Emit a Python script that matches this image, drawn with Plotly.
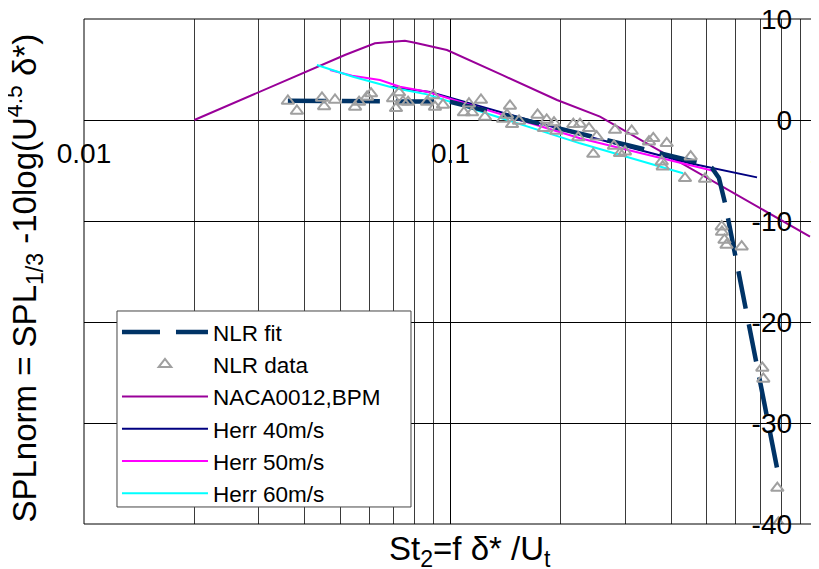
import plotly.graph_objects as go

# ---------------- data ----------------
fit_x = [0.036, 0.0997, 0.48, 0.517, 0.54, 0.561, 0.778]
fit_y = [1.91, 1.81, -4.26, -4.75, -5.74, -8.22, -34.46]

nlr_x = [0.0360, 0.0381, 0.0446, 0.0452, 0.0484, 0.0549, 0.0563, 0.0592, 0.0607,
         0.0697, 0.0710, 0.0724, 0.0742, 0.0766, 0.0863, 0.0896, 0.0907, 0.0954,
         0.1088, 0.1123, 0.1145, 0.1211, 0.1242, 0.1391, 0.1426, 0.1453, 0.1472,
         0.1538, 0.1728, 0.1799, 0.1830, 0.1916, 0.1945, 0.2163, 0.2256, 0.2232,
         0.2387, 0.2505, 0.2452, 0.2811, 0.2793, 0.2901, 0.2993, 0.3122, 0.3480,
         0.3575, 0.3890, 0.3770, 0.3793, 0.4363, 0.4522, 0.4948, 0.5495, 0.5505,
         0.5592, 0.5663, 0.6230, 0.7092, 0.7137, 0.7794, 0.7843]
nlr_y = [1.88, 0.89, 2.18, 1.34, 1.98, 1.29, 1.78, 2.28, 2.62,
         2.13, 1.16, 2.72, 1.81, 1.78, 1.78, 2.43, 1.29, 1.49,
         0.74, 1.61, 0.74, 1.98, 0.30, 0.10, 0.50, 1.39, -0.43,
         -0.10, 0.50, -0.82, 0.00, -0.25, -1.09, -0.42, -0.40, -1.73,
         -0.82, -1.65, -3.37, -0.99, -2.57, -3.30, -3.14, -1.09, -2.15,
         -1.81, -2.31, -4.13, -4.62, -5.77, -3.63, -5.84, -10.56, -11.09,
         -11.88, -12.38, -12.54, -24.55, -25.64, -36.44, -39.90]

bpm_x = [0.02, 0.030, 0.0515, 0.0622, 0.0751, 0.080, 0.0978, 0.1382, 0.1953, 0.2558, 0.530, 0.957]
bpm_y = [0.0, 2.77, 6.44, 7.59, 7.85, 7.65, 6.93, 4.46, 1.98, 0.33, -6.24, -11.55]

h40_x = [0.0684, 0.0879, 0.2119, 0.450, 0.686]
h40_y = [3.30, 2.77, -1.16, -4.29, -5.68]

h50_x = [0.0469, 0.0539, 0.0642, 0.0728, 0.0863, 0.2256, 0.5334]
h50_y = [4.95, 4.39, 3.96, 3.30, 2.80, -1.81, -5.12]

h60_x = [0.0432, 0.0542, 0.0706, 0.0863, 0.2256, 0.431]
h60_y = [5.45, 4.29, 3.14, 2.54, -2.31, -5.28]

x_major_ticks = [0.01, 0.1, 1]
x_tick_text = ["0.01", "0.1", "1"]
x_minor_ticks = [0.02, 0.03, 0.04, 0.05, 0.06, 0.07, 0.08, 0.09,
                 0.2, 0.3, 0.4, 0.5, 0.6, 0.7, 0.8, 0.9]
y_ticks = [-40, -30, -20, -10, 0, 10]
y_tick_text = ["-40", "-30", "-20", "-10", "0", "10"]

FONT = "Arial, Liberation Sans, sans-serif"

fig = go.Figure()

fig.add_trace(go.Scatter(x=bpm_x, y=bpm_y, mode="lines", name="NACA0012,BPM",
                         line=dict(color="#990099", width=2), legendrank=3))
fig.add_trace(go.Scatter(x=h40_x, y=h40_y, mode="lines", name="Herr 40m/s",
                         line=dict(color="#000080", width=2), legendrank=4))
fig.add_trace(go.Scatter(x=h50_x, y=h50_y, mode="lines", name="Herr 50m/s",
                         line=dict(color="#FF00FF", width=2), legendrank=5))
fig.add_trace(go.Scatter(x=h60_x, y=h60_y, mode="lines", name="Herr 60m/s",
                         line=dict(color="#00FFFF", width=2), legendrank=6))
fig.add_trace(go.Scatter(x=fit_x, y=fit_y, mode="lines", name="NLR fit",
                         line=dict(color="#003366", width=4.5, dash="38px,16px"),
                         legendrank=1))
fig.add_trace(go.Scatter(x=nlr_x, y=nlr_y, mode="markers", name="NLR data",
                         marker=dict(symbol="triangle-up-open", size=11, color="#A0A0A0",
                                     line=dict(width=2, color="#A0A0A0")),
                         legendrank=2))

fig.update_layout(
    width=819, height=569,
    margin=dict(l=76, r=10, t=11, b=53, autoexpand=False),
    paper_bgcolor="white", plot_bgcolor="white",
    font=dict(family=FONT, color="black"),
    showlegend=True,
    legend=dict(x=0.045, y=0.4218, xanchor="left", yanchor="top",
                bgcolor="rgba(0,0,0,0)", borderwidth=0,
                font=dict(size=22.5, family=FONT), itemwidth=86, tracegroupgap=0),
    xaxis=dict(type="log", range=[-2, 0], anchor="free", position=0.8,
               automargin=False, ticklabeloverflow="allow",
               tickmode="array", tickvals=x_major_ticks, ticktext=x_tick_text,
               tickfont=dict(size=28, family=FONT), ticks="", showline=False,
               showgrid=True, gridcolor="black", gridwidth=1, zeroline=False,
               ticklabelstandoff=14,
               minor=dict(tickmode="array", tickvals=x_minor_ticks, showgrid=True,
                          gridcolor="#3a3a3a", gridwidth=1, ticks="")),
    yaxis=dict(range=[-40, 10], anchor="free", position=0.966,
               automargin=False, ticklabeloverflow="allow",
               tickmode="array", tickvals=y_ticks, ticktext=y_tick_text,
               tickfont=dict(size=28, family=FONT), ticks="", showline=False,
               showgrid=True, gridcolor="black", gridwidth=1, zeroline=False),
    shapes=[
        dict(type="rect", xref="paper", yref="paper", x0=0, x1=1, y0=0, y1=1,
             line=dict(color="black", width=1), layer="above"),
        dict(type="rect", xref="paper", yref="paper", x0=0.045, x1=0.4461,
             y0=0.0337, y1=0.4218, fillcolor="white",
             line=dict(color="#444444", width=1), layer="above"),
    ],
    annotations=[
        dict(text="St<sub>2</sub>=f δ* /U<sub>t</sub>", xref="paper", yref="paper",
             x=0.5266, y=-0.0535, xanchor="center", yanchor="middle", showarrow=False,
             font=dict(size=33, family=FONT)),
        dict(text="SPLnorm = SPL<sub>1/3</sub> -10log(U<sup>4.5</sup> δ*)",
             xref="paper", yref="paper", x=-0.0805, y=0.488, xanchor="center",
             yanchor="middle", textangle=-90, showarrow=False,
             font=dict(size=33, family=FONT)),
    ],
)

fig.write_html("out.html")
